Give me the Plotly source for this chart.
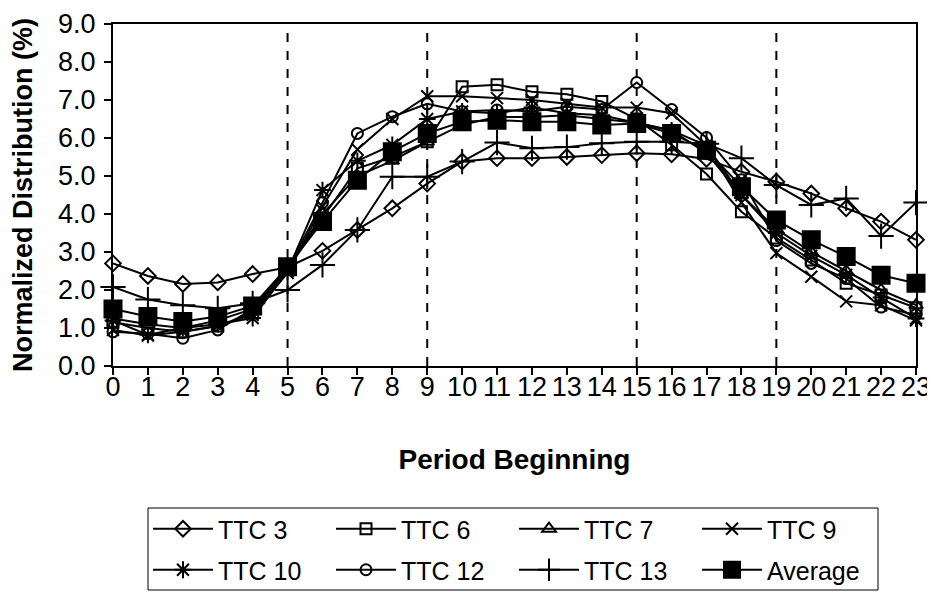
import plotly.graph_objects as go

hours = list(range(24))
ttc3 = [2.70, 2.37, 2.16, 2.20, 2.42, 2.60, 3.03, 3.58, 4.15, 4.80, 5.38, 5.47, 5.47, 5.50, 5.55, 5.60, 5.57, 5.45, 5.11, 4.85, 4.54, 4.15, 3.80, 3.32]
ttc6 = [1.15, 1.00, 0.90, 1.05, 1.40, 2.55, 3.90, 5.20, 5.50, 5.90, 7.35, 7.40, 7.22, 7.15, 6.96, 6.50, 5.82, 5.05, 4.06, 3.37, 2.79, 2.18, 1.87, 1.53]
ttc7 = [1.25, 1.10, 1.00, 1.20, 1.50, 2.55, 4.00, 5.00, 5.40, 5.90, 6.35, 6.55, 6.55, 6.60, 6.50, 6.40, 6.20, 5.60, 4.50, 3.60, 3.00, 2.50, 2.00, 1.60]
ttc9 = [0.95, 0.80, 0.90, 1.05, 1.35, 2.45, 4.20, 5.70, 6.50, 7.10, 7.10, 7.05, 7.00, 6.90, 6.80, 6.80, 6.65, 5.80, 4.30, 2.97, 2.35, 1.70, 1.60, 1.20]
ttc10 = [1.20, 0.82, 1.00, 1.10, 1.26, 2.50, 4.63, 5.40, 5.82, 6.50, 6.70, 6.65, 6.80, 6.65, 6.60, 6.40, 6.20, 5.80, 4.50, 3.50, 2.90, 2.40, 1.80, 1.25]
ttc12 = [0.90, 0.85, 0.73, 0.95, 1.50, 2.55, 4.30, 6.12, 6.56, 6.90, 6.70, 6.74, 6.70, 6.82, 6.75, 7.46, 6.75, 6.01, 4.90, 3.30, 2.70, 2.30, 1.55, 1.35]
ttc13 = [2.08, 1.75, 1.60, 1.52, 1.65, 2.00, 2.66, 3.58, 4.98, 4.98, 5.38, 5.88, 5.73, 5.76, 5.86, 5.90, 5.90, 5.85, 5.47, 4.76, 4.24, 4.41, 3.42, 4.30]
average = [1.50, 1.30, 1.17, 1.30, 1.58, 2.61, 3.80, 4.89, 5.64, 6.12, 6.43, 6.47, 6.43, 6.43, 6.34, 6.38, 6.12, 5.68, 4.72, 3.84, 3.32, 2.88, 2.39, 2.18]
period_lines = [5, 9, 15, 19]
y_ticks = [0, 1, 2, 3, 4, 5, 6, 7, 8, 9]

series = [
    ("TTC 3", ttc3, "diamond-open", 12, "legend"),
    ("TTC 6", ttc6, "square-open", 11, "legend"),
    ("TTC 7", ttc7, "triangle-up-open", 12, "legend"),
    ("TTC 9", ttc9, "x-thin-open", 12, "legend"),
    ("TTC 10", ttc10, "asterisk-open", 14, "legend2"),
    ("TTC 12", ttc12, "circle-open", 11, "legend2"),
    ("TTC 13", ttc13, "cross-thin-open", 18, "legend2"),
    ("Average", average, "square", 17, "legend2"),
]

fig = go.Figure()
for name, vals, sym, size, lg in series:
    fig.add_trace(go.Scatter(
        x=hours, y=vals, name=name, mode="lines+markers",
        line=dict(color="black", width=2),
        marker=dict(symbol=sym, size=size, color="black",
                    line=dict(color="black", width=2)),
        cliponaxis=False, legend=lg,
    ))

for xv in period_lines:
    fig.add_shape(type="line", x0=xv, x1=xv, y0=0, y1=9, xref="x", yref="y",
                  line=dict(color="black", width=2, dash="dash"), layer="below")

# page offset of the figure (default body margin of the html page)
OFF = 8
FW, FH = 935 - OFF, 592 - OFF
H0, H1 = 24, 366      # plot area top/bottom on the page
W0, W1 = 113, 916     # plot area left/right on the page
def py(p):
    return (H1 - p) / (H1 - H0)
def px(p):
    return (p - W0) / (W1 - W0)
def cy(p):
    return 1 - (p - OFF) / FH
def cx(p):
    return (p - OFF) / FW

fig.add_shape(type="rect", xref="paper", yref="paper",
              x0=px(148), x1=px(878), y0=py(590), y1=py(508),
              line=dict(color="black", width=1))

font = "Liberation Sans, Arial, sans-serif"
legend_common = dict(orientation="h", xref="container", yref="container",
                     x=cx(148), xanchor="left", yanchor="middle",
                     entrywidth=108, entrywidthmode="pixels", itemwidth=60,
                     bgcolor="rgba(0,0,0,0)", font=dict(size=25))
fig.update_layout(
    width=FW, height=FH,
    margin=dict(l=W0 - OFF, r=FW - (W1 - OFF), t=H0 - OFF, b=FH - (H1 - OFF)),
    paper_bgcolor="white", plot_bgcolor="white",
    font=dict(family=font, color="black", size=20),
    xaxis=dict(range=[0, 23], tickmode="array", tickvals=hours,
               ticktext=[str(h) for h in hours], automargin=False,
               showgrid=False, zeroline=False, showline=True, linecolor="black",
               linewidth=2, mirror=True, ticks="outside", ticklen=7, tickwidth=1.5,
               tickcolor="black", tickfont=dict(size=27), ticklabelstandoff=-11,
               title=dict(text="<b>Period Beginning</b>", font=dict(size=28), standoff=48)),
    yaxis=dict(range=[0, 9], tickmode="array", tickvals=y_ticks,
               ticktext=[f"{v:.1f}" for v in y_ticks], automargin=False,
               showgrid=False, zeroline=False, showline=True, linecolor="black",
               linewidth=2, mirror=True, ticks="outside", ticklen=7, tickwidth=1.5,
               tickcolor="black", tickfont=dict(size=27), ticklabelstandoff=3,
               title=dict(text="<b>Normalized Distribution (%)</b>", font=dict(size=27), standoff=22)),
    showlegend=True,
    legend=dict(y=cy(529), **legend_common),
    legend2=dict(y=cy(570), **legend_common),
)

fig.write_html("out.html")
